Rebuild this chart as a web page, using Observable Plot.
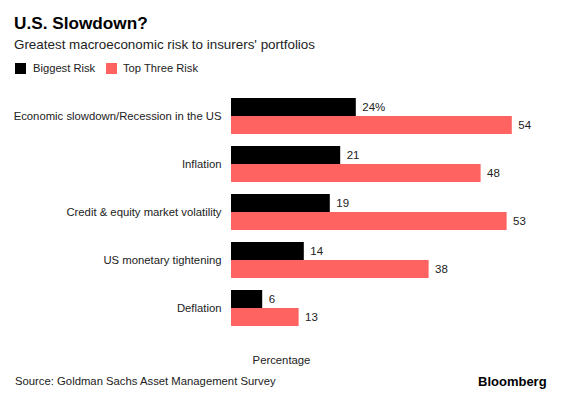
<!DOCTYPE html>
<html><head><meta charset="utf-8">
<script src="https://cdn.jsdelivr.net/npm/d3@7"></script>
<script src="https://cdn.jsdelivr.net/npm/@observablehq/plot@0.6"></script>
<style>
body{margin:0;background:#fff;font-family:"Liberation Sans",Arial,Helvetica,sans-serif;}
#wrap{position:relative;width:580px;height:395px;overflow:hidden;background:#fff;}
.t{position:absolute;white-space:nowrap;color:#222;}
.sw{position:absolute;width:11px;height:11px;}
#chart{position:absolute;left:0;top:85px;}
</style></head><body><div id="wrap">
<div class="t" style="left:14px;top:14.7px;font-size:17.2px;line-height:17.2px;font-weight:bold;color:#000">U.S. Slowdown?</div>
<div class="t" style="left:14px;top:38px;font-size:13.4px;line-height:13.4px;">Greatest macroeconomic risk to insurers' portfolios</div>
<div id="legend"></div>
<div id="chart"></div>
<div class="t" style="left:181.5px;width:200px;text-align:center;top:355.4px;font-size:11.3px;line-height:11.3px;">Percentage</div>
<div class="t" style="left:15px;top:376.4px;font-size:11.3px;line-height:11.3px;">Source: Goldman Sachs Asset Management Survey</div>
<div class="t" style="left:478px;top:374.7px;font-size:13px;line-height:13px;font-weight:bold;color:#000">Bloomberg</div>
</div>
<script>
const categories = ["Economic slowdown/Recession in the US","Inflation","Credit & equity market volatility","US monetary tightening","Deflation"];
const seriesNames = ["Biggest Risk","Top Three Risk"];
const biggest = [24,21,19,14,6];
const topThree = [54,48,53,38,13];
const colors = ["#000000","#ff6361"];

const data = categories.flatMap((c,i)=>[
  {category:c, series:seriesNames[0], value:biggest[i], label: i===0 ? biggest[i]+"%" : String(biggest[i])},
  {category:c, series:seriesNames[1], value:topThree[i], label: String(topThree[i])}
]);

// legend
const legend = document.getElementById("legend");
const legendPos = [{sx:15, tx:33},{sx:106, tx:123}];
seriesNames.forEach((s,i)=>{
  const sw = document.createElement("div");
  sw.className="sw"; sw.style.left=legendPos[i].sx+"px"; sw.style.top="63px"; sw.style.background=colors[i];
  legend.appendChild(sw);
  const t = document.createElement("div");
  t.className="t"; t.style.left=legendPos[i].tx+"px"; t.style.top="63.2px"; t.style.fontSize="11.2px"; t.style.lineHeight="11.2px";
  t.textContent=s; legend.appendChild(t);
});

const chart = Plot.plot({
  width:580, height:260,
  marginLeft:231, marginRight:37, marginTop:12, marginBottom:19,
  style:{fontFamily:'"Liberation Sans",Arial,sans-serif', fontSize:"11.3px", color:"#222", background:"transparent"},
  x:{domain:[0,60], axis:null},
  y:{domain:seriesNames, paddingInner:0, paddingOuter:0, axis:null},
  fy:{domain:categories, paddingInner:11/48, paddingOuter:0, axis:"left", tickSize:0, tickPadding:10, label:null},
  color:{domain:seriesNames, range:colors},
  marks:[
    Plot.barX(data,{x:"value", y:"series", fy:"category", fill:"series"}),
    Plot.text(data,{x:"value", y:"series", fy:"category", text:"label", textAnchor:"start", dx:6, fill:"#222", fontSize:11.5})
  ]
});
document.getElementById("chart").appendChild(chart);
</script>
</body></html>
